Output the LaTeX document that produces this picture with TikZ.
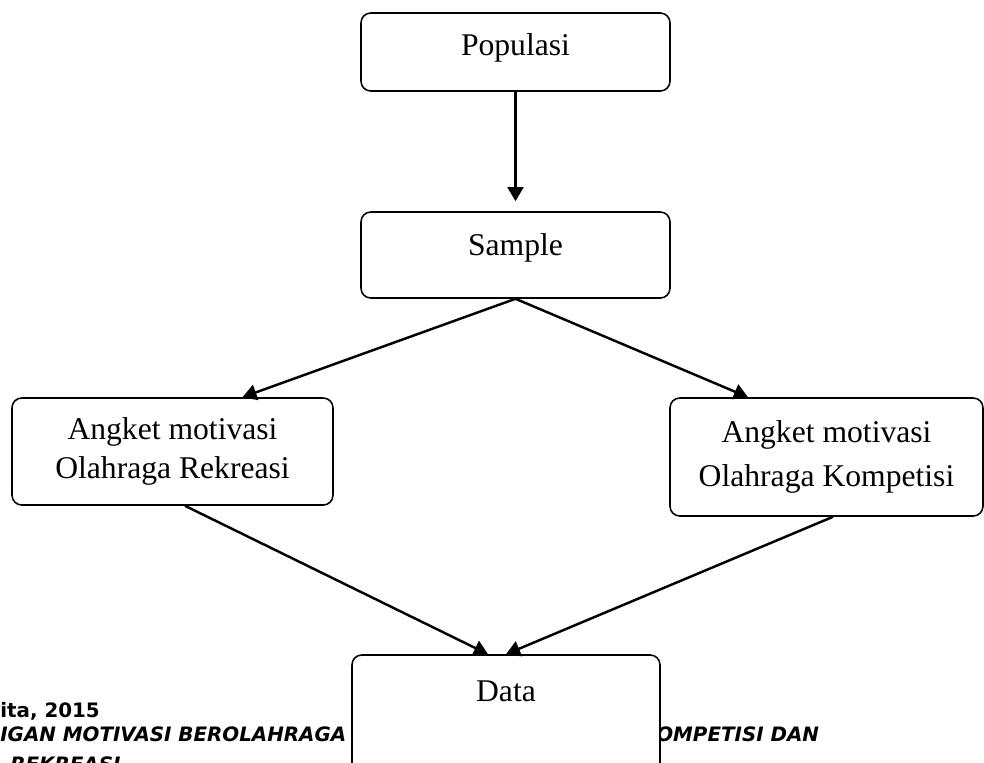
\documentclass[tikz,border=0pt]{standalone}
\usepackage{fontspec}
\setmainfont{Liberation Serif}
\newfontfamily\footfont{DejaVu Sans}
\usetikzlibrary{arrows.meta, positioning}

\begin{document}
\begin{tikzpicture}[
    x=0.02cm, y=-0.02cm,
    >={Triangle[length=8pt, width=9pt]},
    kotak/.style={rectangle, draw=black, line width=0.9pt, rounded corners=5.5pt,
                  fill=white, inner sep=0pt, align=center,
                  font=\fontsize{18}{22}\selectfont},
    panah/.style={->, line width=1.4pt},
    kaki/.style={font=\footfont\fontsize{11.3}{13}\selectfont\bfseries,
                 anchor=base west, inner sep=0pt},
    kakimiring/.style={kaki, font=\footfont\fontsize{11.3}{13}\selectfont\bfseries\itshape}
]
\useasboundingbox (0,0) rectangle (984,762);
% footer of the page, partly under the last box
\node[kaki] (tahun) at (0,717) {ita, 2015};
\node[kakimiring] (judul1) at (0,741) {IGAN MOTIVASI BEROLAHRAGA A};
\node[kakimiring] (judul2) at (656,741) {OMPETISI DAN};
\node[kakimiring] (judul3) at (10,771) {REKREASI};
% boxes
\node[kotak, minimum width=6.18cm, minimum height=1.56cm] (pop) at (515.5,52) {\raisebox{-0.06cm}[0pt][0pt]{Populasi}};
\node[kotak, minimum width=6.18cm, minimum height=1.72cm] (samp) at (515.5,255) {\raisebox{0cm}[0pt][0pt]{Sample}};
\node[kotak, minimum width=6.42cm, minimum height=2.14cm] (rekreasi) at (172.5,451.5) {Angket motivasi\\Olahraga Rekreasi};
\node[kotak, minimum width=6.26cm, minimum height=2.36cm,
      font=\fontsize{18}{25}\selectfont] (kompetisi) at (826.5,457) {Angket motivasi\\Olahraga Kompetisi};
\node[kotak, minimum width=6.16cm, minimum height=2.5cm] (data) at (506,717.5) {\raisebox{0.33cm}[0pt][0pt]{Data}};
% arrows
\draw[panah, shorten >=0.2cm] (pop.south) -- (samp.north);
\draw[panah] (samp.south) -- ([xshift=1.4cm]rekreasi.north);
\draw[panah] (samp.south) -- ([xshift=-1.57cm]kompetisi.north);
\draw[panah] ([xshift=0.25cm]rekreasi.south) -- ([xshift=-0.36cm]data.north);
\draw[panah] ([xshift=0.13cm]kompetisi.south) -- (data.north);
\end{tikzpicture}
\end{document}
